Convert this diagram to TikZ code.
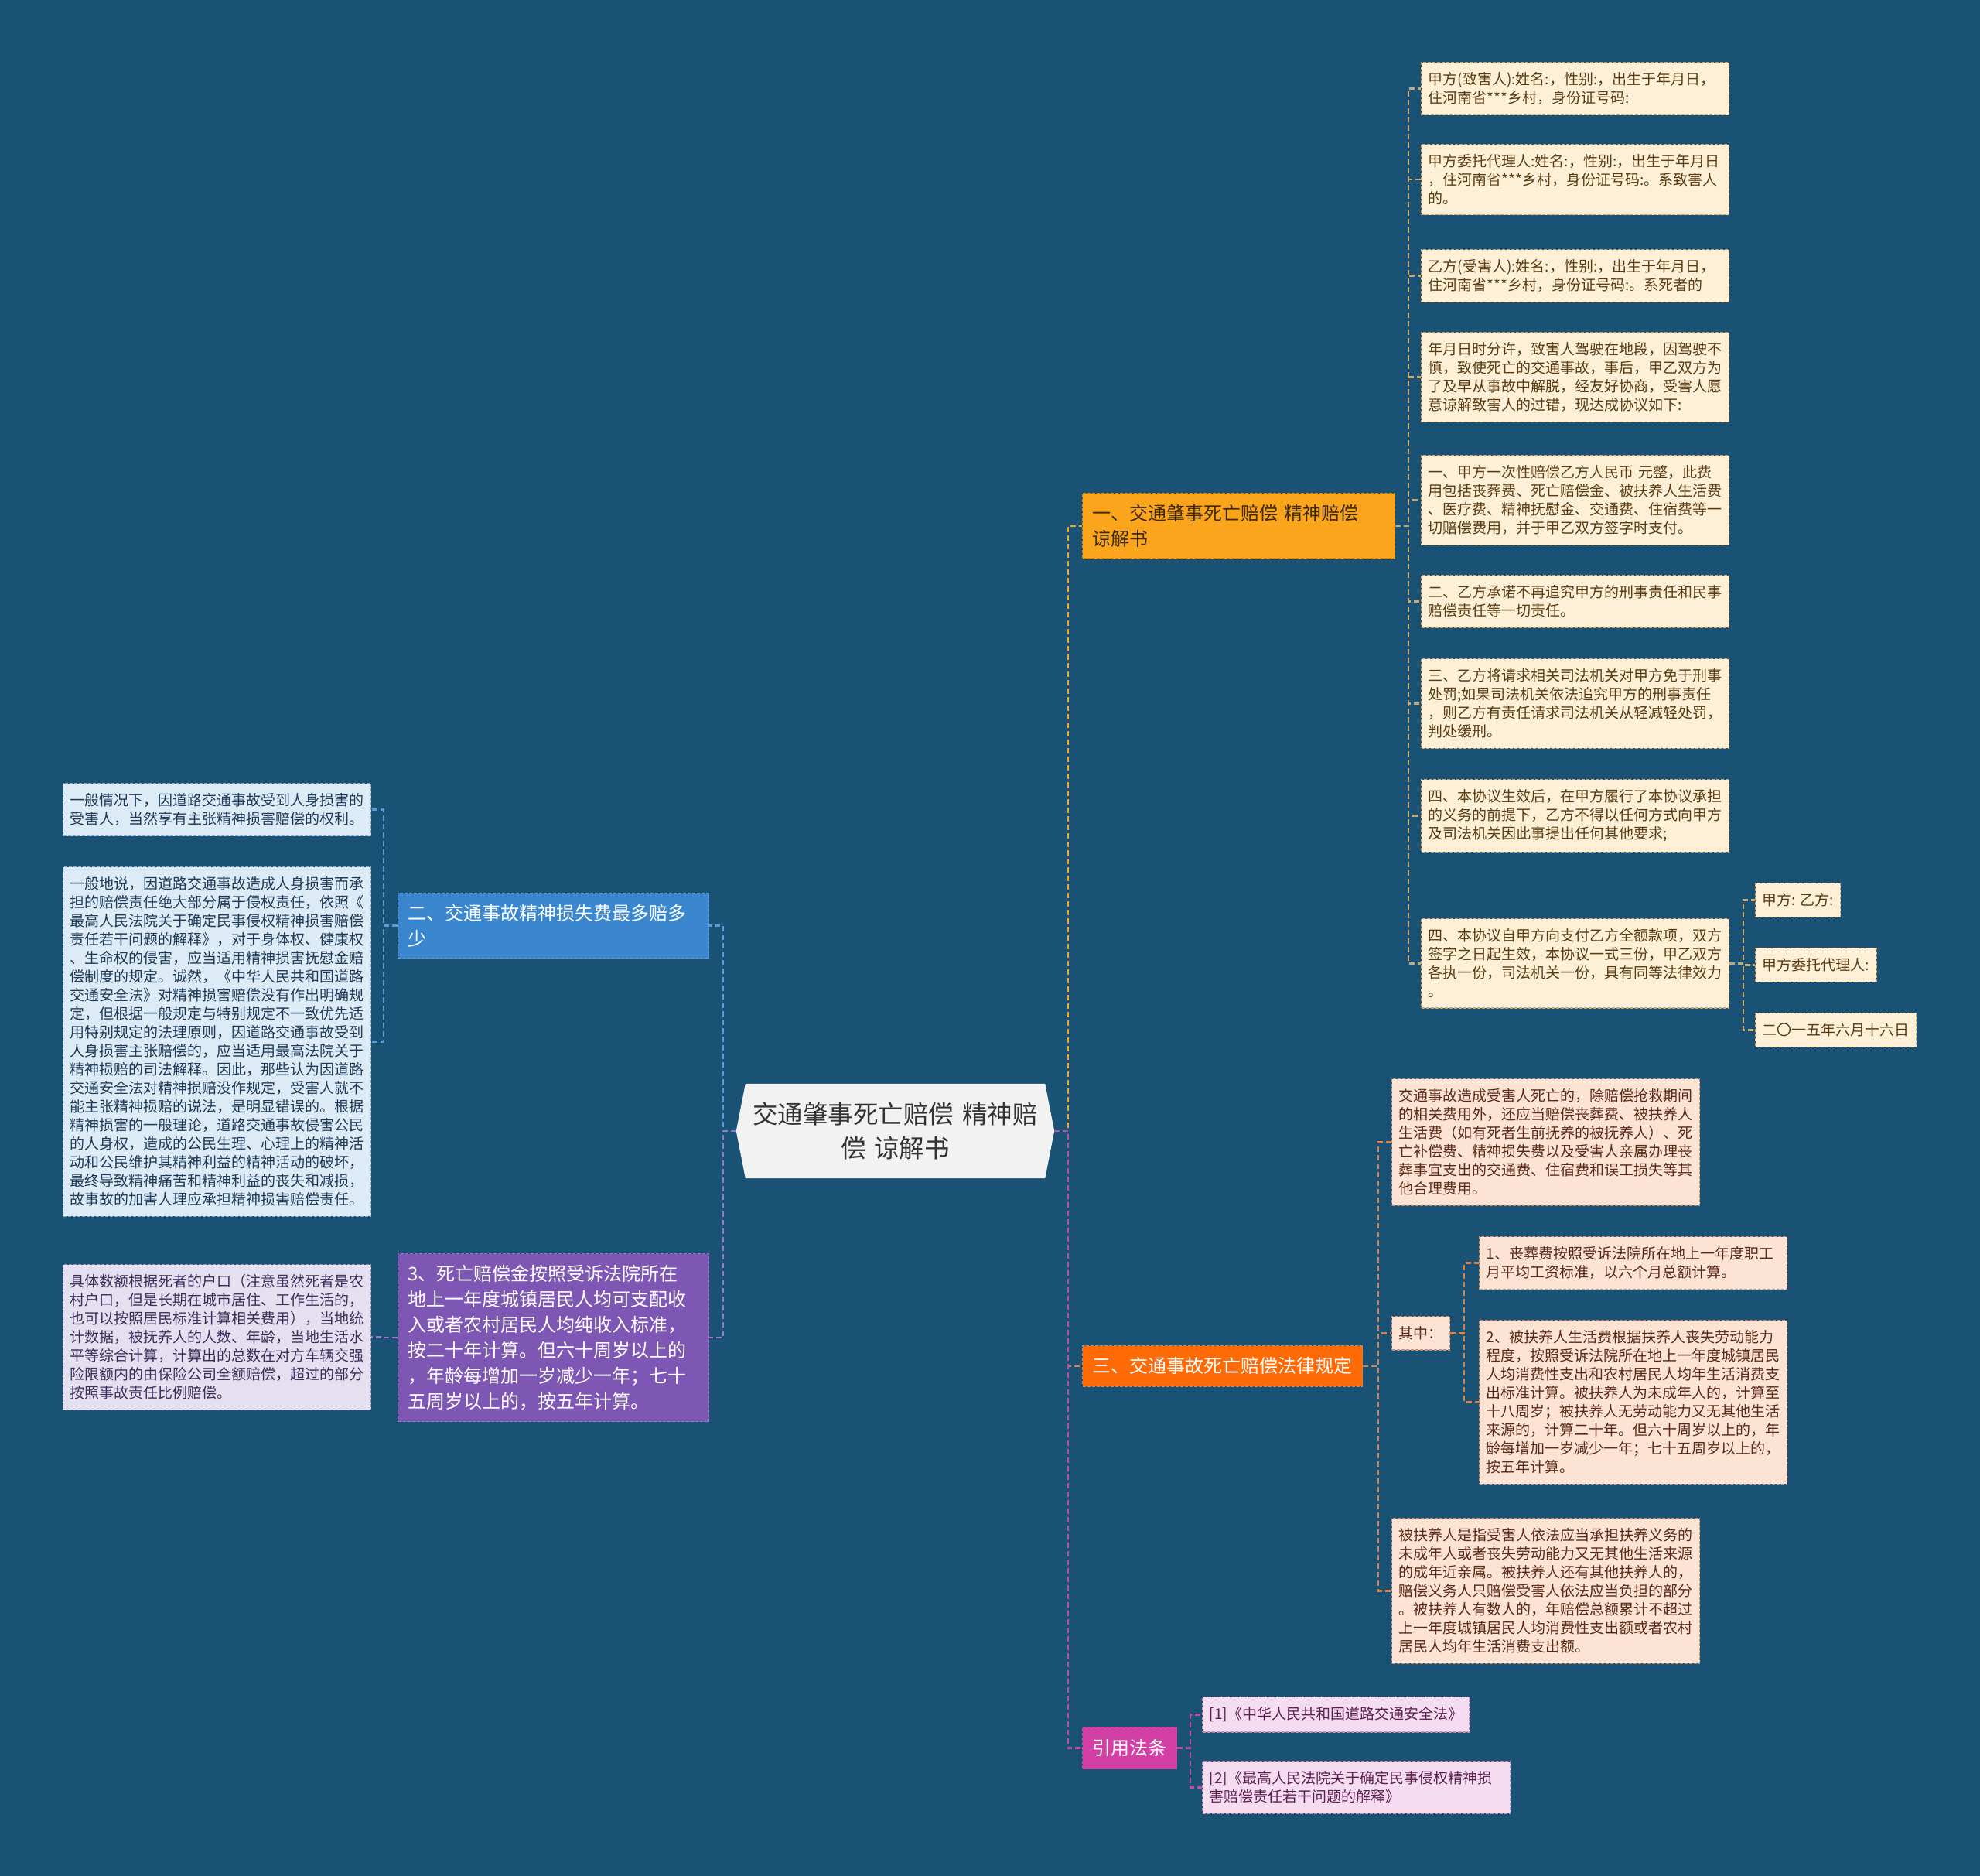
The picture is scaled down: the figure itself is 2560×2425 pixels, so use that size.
\documentclass[tikz,border=0pt]{standalone}
\usepackage{fontspec}
\setmainfont{Noto Sans CJK SC}
\usetikzlibrary{backgrounds}

\definecolor{bgblue}{HTML}{1A5276}
\definecolor{hubfill}{HTML}{F2F2F2}
\definecolor{hubtext}{HTML}{333333}
\definecolor{goldfill}{HTML}{FBA51C}
\definecolor{goldline}{HTML}{D88A12}
\definecolor{goldtext}{HTML}{3D2A0A}
\definecolor{bluefill}{HTML}{3A86CF}
\definecolor{blueline}{HTML}{5B9BD8}
\definecolor{purpfill}{HTML}{7E57B5}
\definecolor{purpline}{HTML}{9A78C8}
\definecolor{redfill}{HTML}{FE6A05}
\definecolor{redline}{HTML}{D8824A}
\definecolor{magfill}{HTML}{D23FA5}
\definecolor{magline}{HTML}{C24BA8}
\definecolor{creamfill}{HTML}{FDF0D6}
\definecolor{creamline}{HTML}{C8A870}
\definecolor{creamtext}{HTML}{5A3C14}
\definecolor{peachfill}{HTML}{FDE3D3}
\definecolor{peachline}{HTML}{C89070}
\definecolor{peachtext}{HTML}{5A2A18}
\definecolor{skyfill}{HTML}{DDEBF6}
\definecolor{skyline}{HTML}{8AAAC8}
\definecolor{skytext}{HTML}{1E3A58}
\definecolor{lavfill}{HTML}{E5E0F0}
\definecolor{lavline}{HTML}{9A90C0}
\definecolor{lavtext}{HTML}{3A2F5A}
\definecolor{pinkfill}{HTML}{F6DCF0}
\definecolor{pinkline}{HTML}{C090B8}
\definecolor{pinktext}{HTML}{5A2050}

\begin{document}
\begin{tikzpicture}[x=1pt,y=-1pt,
  hub/.style={minimum width=411pt,minimum height=122pt,text width=380pt,align=center,inner xsep=0pt,font=\fontsize{32.5}{44}\selectfont,text=hubtext},
  branch/.style={anchor=north west,align=left,inner xsep=13pt,inner ysep=14.5pt,line width=1.2pt,dash pattern=on 4pt off 2pt,font=\fontsize{24}{33}\selectfont},
  leaf/.style={anchor=north west,align=left,inner xsep=9pt,inner ysep=13pt,line width=1.2pt,dash pattern=on 4pt off 2pt,font=\fontsize{19}{24}\selectfont},
  wide/.style={text width=380pt},
  cream/.style={leaf,fill=creamfill,draw=creamline,text=creamtext},
  peach/.style={leaf,fill=peachfill,draw=peachline,text=peachtext},
  sky/.style={leaf,fill=skyfill,draw=skyline,text=skytext},
  lav/.style={leaf,fill=lavfill,draw=lavline,text=lavtext},
  pink/.style={leaf,fill=pinkfill,draw=pinkline,text=pinktext},
  link/.style={line width=2.5pt,dash pattern=on 7pt off 4pt}]
\useasboundingbox (0,0) rectangle (2560,2425);
\begin{scope}[on background layer]
\fill[bgblue] (0,0) rectangle (2560,2425);
\end{scope}

\node[hub] (hub) at (1157.5,1462) {交通肇事死亡赔偿 精神赔\\偿 谅解书};
\begin{scope}[on background layer]
\fill[hubfill] (hub.west) -- ([xshift=12pt]hub.north west) -- ([xshift=-12pt]hub.north east) -- (hub.east) -- ([xshift=-12pt]hub.south east) -- ([xshift=12pt]hub.south west) -- cycle;
\end{scope}

\node[branch,fill=goldfill,draw=goldline,text=goldtext,text width=378pt] (br1) at (1399,637) {一、交通肇事死亡赔偿 精神赔偿\\谅解书};
\node[branch,fill=bluefill,draw=blueline,text=white,text width=376pt] (br2) at (514,1154) {二、交通事故精神损失费最多赔多\\少};
\node[branch,fill=purpfill,draw=purpline,text=white,text width=376pt] (br3) at (514,1620) {3、死亡赔偿金按照受诉法院所在\\地上一年度城镇居民人均可支配收\\入或者农村居民人均纯收入标准，\\按二十年计算。但六十周岁以上的\\，年龄每增加一岁减少一年；七十\\五周岁以上的，按五年计算。};
\node[branch,fill=redfill,draw=redline,text=white,inner ysep=15pt] (br4) at (1399,1739) {三、交通事故死亡赔偿法律规定};
\node[branch,fill=magfill,draw=magline,text=white,inner ysep=16pt] (br5) at (1399,2232) {引用法条};

\node[cream,wide] (lf1) at (1837,80) {甲方(致害人):姓名:，性别:，出生于年月日，\\住河南省***乡村，身份证号码:};
\node[cream,wide] (lf2) at (1837,186) {甲方委托代理人:姓名:，性别:，出生于年月日\\，住河南省***乡村，身份证号码:。系致害人\\的。};
\node[cream,wide] (lf3) at (1837,322) {乙方(受害人):姓名:，性别:，出生于年月日，\\住河南省***乡村，身份证号码:。系死者的};
\node[cream,wide] (lf4) at (1837,429) {年月日时分许，致害人驾驶在地段，因驾驶不\\慎，致使死亡的交通事故，事后，甲乙双方为\\了及早从事故中解脱，经友好协商，受害人愿\\意谅解致害人的过错，现达成协议如下:};
\node[cream,wide] (lf5) at (1837,588) {一、甲方一次性赔偿乙方人民币 元整，此费\\用包括丧葬费、死亡赔偿金、被扶养人生活费\\、医疗费、精神抚慰金、交通费、住宿费等一\\切赔偿费用，并于甲乙双方签字时支付。};
\node[cream,wide] (lf6) at (1837,743) {二、乙方承诺不再追究甲方的刑事责任和民事\\赔偿责任等一切责任。};
\node[cream,wide] (lf7) at (1837,851) {三、乙方将请求相关司法机关对甲方免于刑事\\处罚;如果司法机关依法追究甲方的刑事责任\\，则乙方有责任请求司法机关从轻减轻处罚，\\判处缓刑。};
\node[cream,wide] (lf8) at (1837,1007) {四、本协议生效后，在甲方履行了本协议承担\\的义务的前提下，乙方不得以任何方式向甲方\\及司法机关因此事提出任何其他要求;};
\node[cream,wide] (lf9) at (1837,1187) {四、本协议自甲方向支付乙方全额款项，双方\\签字之日起生效，本协议一式三份，甲乙双方\\各执一份，司法机关一份，具有同等法律效力\\。};
\node[cream] (sub1) at (2269,1141) {甲方: 乙方:};
\node[cream] (sub2) at (2269,1225) {甲方委托代理人:};
\node[cream] (sub3) at (2269,1309) {二〇一五年六月十六日};

\node[peach,wide] (rt1) at (1799,1394) {交通事故造成受害人死亡的，除赔偿抢救期间\\的相关费用外，还应当赔偿丧葬费、被扶养人\\生活费（如有死者生前抚养的被抚养人）、死\\亡补偿费、精神损失费以及受害人亲属办理丧\\葬事宜支出的交通费、住宿费和误工损失等其\\他合理费用。};
\node[peach] (rt2) at (1799,1701) {其中：};
\node[peach,wide] (rt3) at (1799,1962) {被扶养人是指受害人依法应当承担扶养义务的\\未成年人或者丧失劳动能力又无其他生活来源\\的成年近亲属。被扶养人还有其他扶养人的，\\赔偿义务人只赔偿受害人依法应当负担的部分\\。被扶养人有数人的，年赔偿总额累计不超过\\上一年度城镇居民人均消费性支出额或者农村\\居民人均年生活消费支出额。};
\node[peach,wide] (qz1) at (1912,1598) {1、丧葬费按照受诉法院所在地上一年度职工\\月平均工资标准，以六个月总额计算。};
\node[peach,wide] (qz2) at (1912,1706) {2、被扶养人生活费根据扶养人丧失劳动能力\\程度，按照受诉法院所在地上一年度城镇居民\\人均消费性支出和农村居民人均年生活消费支\\出标准计算。被扶养人为未成年人的，计算至\\十八周岁；被扶养人无劳动能力又无其他生活\\来源的，计算二十年。但六十周岁以上的，年\\龄每增加一岁减少一年；七十五周岁以上的，\\按五年计算。};

\node[sky,wide] (lw1) at (81,1012) {一般情况下，因道路交通事故受到人身损害的\\受害人，当然享有主张精神损害赔偿的权利。};
\node[sky,wide] (lw2) at (81,1120) {一般地说，因道路交通事故造成人身损害而承\\担的赔偿责任绝大部分属于侵权责任，依照《\\最高人民法院关于确定民事侵权精神损害赔偿\\责任若干问题的解释》，对于身体权、健康权\\、生命权的侵害，应当适用精神损害抚慰金赔\\偿制度的规定。诚然，《中华人民共和国道路\\交通安全法》对精神损害赔偿没有作出明确规\\定，但根据一般规定与特别规定不一致优先适\\用特别规定的法理原则，因道路交通事故受到\\人身损害主张赔偿的，应当适用最高法院关于\\精神损赔的司法解释。因此，那些认为因道路\\交通安全法对精神损赔没作规定，受害人就不\\能主张精神损赔的说法，是明显错误的。根据\\精神损害的一般理论，道路交通事故侵害公民\\的人身权，造成的公民生理、心理上的精神活\\动和公民维护其精神利益的精神活动的破坏，\\最终导致精神痛苦和精神利益的丧失和减损，\\故事故的加害人理应承担精神损害赔偿责任。};
\node[lav,wide] (lw3) at (81,1634) {具体数额根据死者的户口（注意虽然死者是农\\村户口，但是长期在城市居住、工作生活的，\\也可以按照居民标准计算相关费用），当地统\\计数据，被抚养人的人数、年龄，当地生活水\\平等综合计算，计算出的总数在对方车辆交强\\险限额内的由保险公司全额赔偿，超过的部分\\按照事故责任比例赔偿。};

\node[pink] (ref1) at (1554,2193) {[1]《中华人民共和国道路交通安全法》};
\node[pink,wide] (ref2) at (1554,2276) {[2]《最高人民法院关于确定民事侵权精神损\\害赔偿责任若干问题的解释》};

\draw[link,draw=goldfill] (hub.east) -- ++(18,0) |- (br1.west);
\draw[link,draw=redline] (hub.east) -- ++(18,0) |- (br4.west);
\draw[link,draw=magline] (hub.east) -- ++(18,0) |- (br5.west);
\draw[link,draw=blueline] (hub.west) -- ++(-17,0) |- (br2.east);
\draw[link,draw=purpline] (hub.west) -- ++(-17,0) |- (br3.east);

\foreach \i in {1,...,9}
  \draw[link,draw=creamline] (br1.east) -- ++(17,0) |- (lf\i.west);
\foreach \i in {1,2,3}
  \draw[link,draw=creamline] (lf9.east) -- ++(18,0) |- (sub\i.west);
\foreach \i in {1,2,3}
  \draw[link,draw=redline] (br4.east) -- ++(20,0) |- (rt\i.west);
\foreach \i in {1,2}
  \draw[link,draw=redline] (rt2.east) -- ++(18,0) |- (qz\i.west);
\foreach \i in {1,2}
  \draw[link,draw=blueline] (br2.west) -- ++(-18,0) |- (lw\i.east);
\draw[link,draw=purpline] (br3.west) -- ++(-18,0) |- (lw3.east);
\foreach \i in {1,2}
  \draw[link,draw=magline] (br5.east) -- ++(17,0) |- (ref\i.west);
\end{tikzpicture}
\end{document}
